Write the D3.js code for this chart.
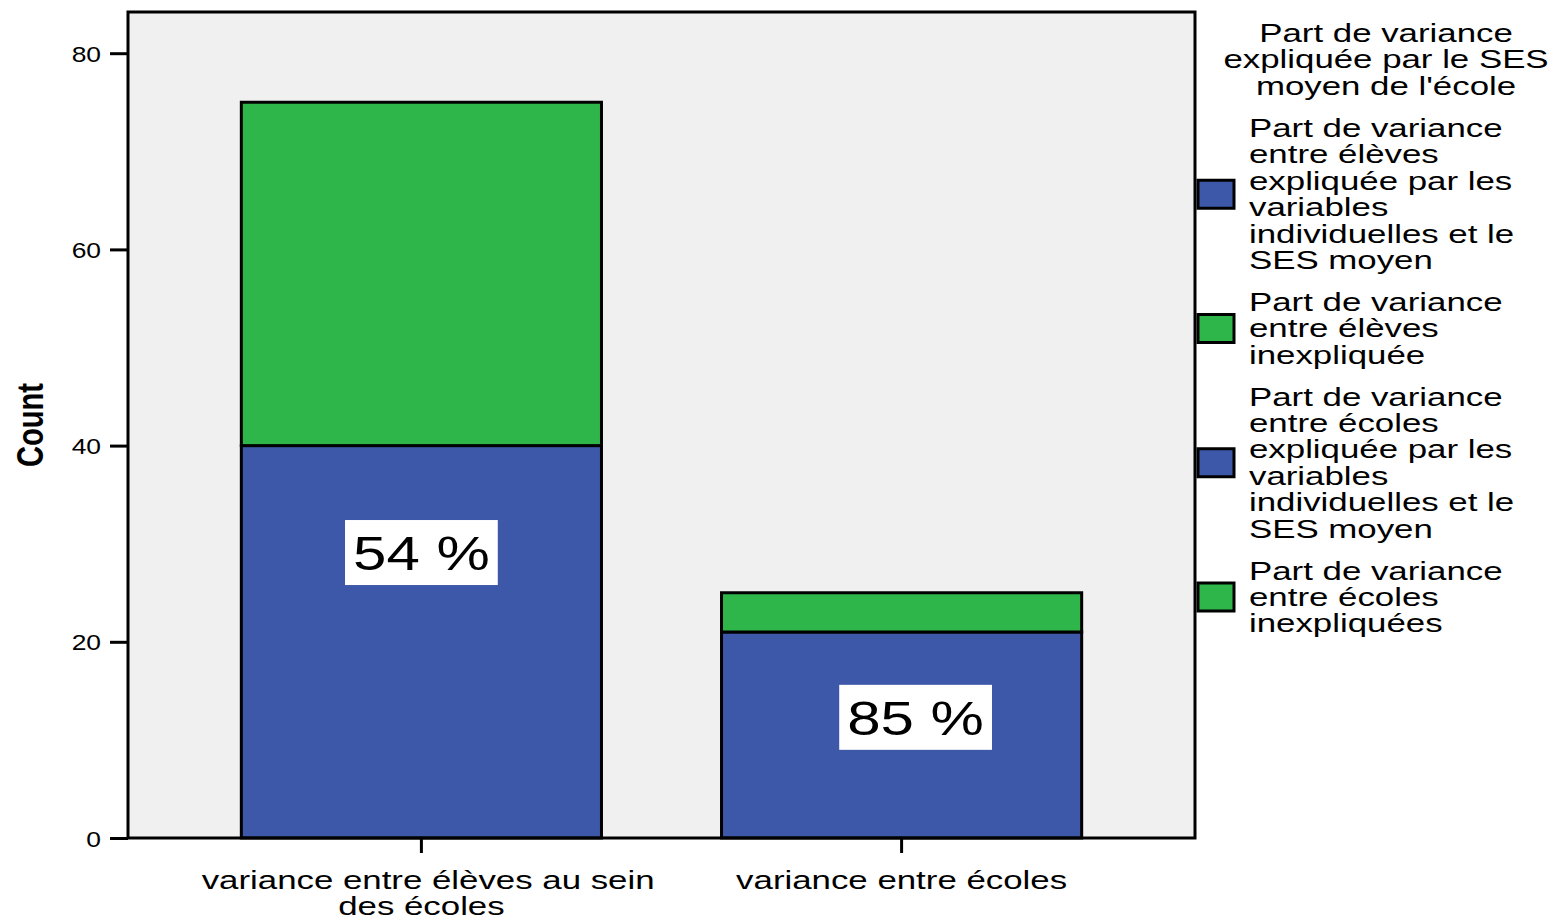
<!DOCTYPE html>
<html>
<head>
<meta charset="utf-8">
<script src="https://cdn.jsdelivr.net/npm/d3@7"></script>
<style>
body { margin: 0; background: #fff; }
text { font-family: "Liberation Sans", Arial, sans-serif; fill: #000; }
</style>
</head>
<body>
<div id="chart"></div>
<script>
// data
const categories = [["variance entre élèves au sein", "des écoles"], ["variance entre écoles"]];
const explained = [40, 21];
const unexplained = [35, 4];
const pctLabels = ["54 %", "85 %"];
const pctAt = [29.1, 12.3];
const yTicks = [0, 20, 40, 60, 80];
const legendTitle = ["Part de variance", "expliquée par le SES", "moyen de l'école"];
const legendLabels = [
    ["Part de variance", "entre élèves", "expliquée par les", "variables", "individuelles et le", "SES moyen"],
    ["Part de variance", "entre élèves", "inexpliquée"],
    ["Part de variance", "entre écoles", "expliquée par les", "variables", "individuelles et le", "SES moyen"],
    ["Part de variance", "entre écoles", "inexpliquées"]
];
const legendKeys = ["explained", "unexplained", "explained", "unexplained"];

const width = 1557;
const height = 922;
const plot = {left: 128, right: 1195, top: 12, bottom: 838};
const sx = 1.34;   // the original is stretched sideways
const colors = {explained: "#3d58a9", unexplained: "#2fb64a"};

const svg = d3.select("#chart").append("svg")
    .attr("width", width)
    .attr("height", height);

const x = d3.scaleBand()
    .domain(d3.range(categories.length))
    .range([plot.left, plot.right])
    .paddingInner(0.25)
    .paddingOuter(0.236);

const y = d3.scaleLinear()
    .domain([0, 84.2])
    .range([plot.bottom, plot.top]);

svg.append("rect")
    .attr("x", plot.left)
    .attr("y", plot.top)
    .attr("width", plot.right - plot.left)
    .attr("height", plot.bottom - plot.top)
    .attr("fill", "#f0f0f0");

const rows = categories.map(function(c, i) {
    return {i: i, explained: explained[i], unexplained: unexplained[i]};
});
const series = d3.stack().keys(["explained", "unexplained"])(rows);

svg.append("g")
    .selectAll("g")
    .data(series)
    .join("g")
    .attr("fill", function(d) { return colors[d.key]; })
    .selectAll("rect")
    .data(function(d) { return d; })
    .join("rect")
    .attr("x", function(d) { return x(d.data.i); })
    .attr("width", x.bandwidth())
    .attr("y", function(d) { return y(d[1]); })
    .attr("height", function(d) { return y(d[0]) - y(d[1]); })
    .attr("stroke", "#000")
    .attr("stroke-width", 3);

// percent boxes
const pctOffset = [0, 14];
const pct = svg.append("g")
    .selectAll("g")
    .data(pctLabels)
    .join("g")
    .attr("transform", function(d, i) {
        return "translate(" + (x(i) + x.bandwidth() / 2 + pctOffset[i]) + "," + y(pctAt[i]) + ")";
    });
pct.append("rect").attr("fill", "#fff");
pct.append("text")
    .attr("text-anchor", "middle")
    .attr("dy", "0.36em")
    .attr("transform", "scale(1.25,1)")
    .style("font-size", "48px")
    .text(function(d) { return d; });
pct.each(function() {
    const g = d3.select(this);
    const w = g.select("text").node().getComputedTextLength() * 1.25 + 16;
    g.select("rect")
        .attr("x", -w / 2)
        .attr("y", -32.5)
        .attr("width", w)
        .attr("height", 65);
});

// frame
svg.append("rect")
    .attr("x", plot.left)
    .attr("y", plot.top)
    .attr("width", plot.right - plot.left)
    .attr("height", plot.bottom - plot.top)
    .attr("fill", "none")
    .attr("stroke", "#000")
    .attr("stroke-width", 3);

const yAxis = svg.append("g")
    .attr("transform", "translate(" + plot.left + ",0)")
    .call(d3.axisLeft(y).tickValues(yTicks).tickSize(18).tickSizeOuter(0));
yAxis.select(".domain").remove();
yAxis.selectAll("line").attr("stroke", "#000").attr("stroke-width", 3);
yAxis.selectAll("text")
    .attr("x", null)
    .attr("dy", "0.37em")
    .attr("transform", "translate(-27,0) scale(1.2,1)")
    .style("font-size", "22px")
    .style("font-family", "\"Liberation Sans\", Arial, sans-serif");

const xAxis = svg.append("g")
    .attr("transform", "translate(0," + plot.bottom + ")")
    .call(d3.axisBottom(x).tickSize(15).tickSizeOuter(0).tickFormat(""));
xAxis.select(".domain").remove();
xAxis.selectAll("line").attr("stroke", "#000").attr("stroke-width", 3);

svg.append("g")
    .selectAll("text")
    .data(categories)
    .join("text")
    .attr("text-anchor", "middle")
    .attr("transform", function(d, i) {
        return "translate(" + (x(i) + x.bandwidth() / 2) + ",889) scale(" + sx + ",1)";
    })
    .style("font-size", "26px")
    .selectAll("tspan")
    .data(function(d) { return d; })
    .join("tspan")
    .attr("x", function(d, j) { return j === 0 && d.length > 24 ? 5 : 0; })
    .attr("dy", function(d, j) { return j ? 26 : 0; })
    .text(function(d) { return d; });

svg.append("text")
    .attr("text-anchor", "middle")
    .attr("transform", "translate(43,425) rotate(-90) scale(1.04,1.3)")
    .style("font-size", "28px")
    .style("font-weight", "bold")
    .text("Count");

// legend
const lineH = 26.5;
svg.append("text")
    .attr("text-anchor", "middle")
    .attr("transform", "translate(1386,42) scale(" + sx + ",1)")
    .style("font-size", "26px")
    .selectAll("tspan")
    .data(legendTitle)
    .join("tspan")
    .attr("x", 0)
    .attr("dy", function(d, i) { return i ? lineH : 0; })
    .text(function(d) { return d; });

let ly = 137;
legendLabels.forEach(function(lines, i) {
    const g = svg.append("g").attr("transform", "translate(0," + ly + ")");
    const mid = (lines.length - 1) * lineH / 2 - 9;
    g.append("rect")
        .attr("x", 1198)
        .attr("y", mid - 14)
        .attr("width", 36)
        .attr("height", 28)
        .attr("fill", colors[legendKeys[i]])
        .attr("stroke", "#000")
        .attr("stroke-width", 3);
    g.append("text")
        .attr("transform", "translate(1249,0) scale(" + sx + ",1)")
        .style("font-size", "26px")
        .selectAll("tspan")
        .data(lines)
        .join("tspan")
        .attr("x", 0)
        .attr("dy", function(d, j) { return j ? lineH : 0; })
        .text(function(d) { return d; });
    ly += lines.length * lineH + 15;
});
</script>
</body>
</html>
